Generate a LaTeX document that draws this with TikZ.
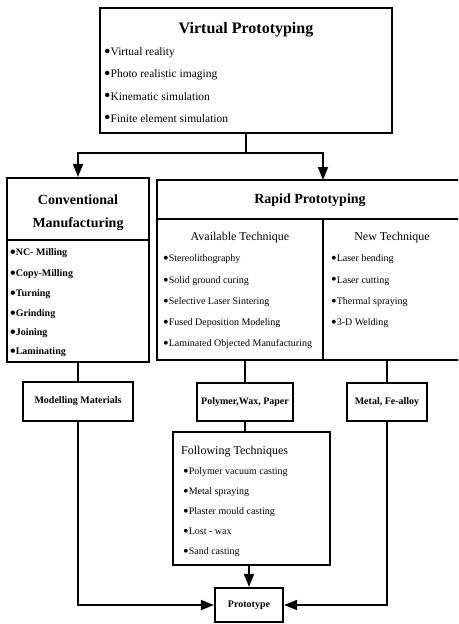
\documentclass[tikz,border=0pt]{standalone}
\usepackage{fontspec}
\setmainfont{Liberation Serif}
\usetikzlibrary{arrows.meta}
\usetikzlibrary{calc}
\newcommand{\dotmark}{\raisebox{-0.17em}{\scalebox{1.6}{\textbullet}}}

\begin{document}
\begin{tikzpicture}[
	x=1pt,
	y=-1pt,
	box/.style={
		draw,
		line width=2.2pt,
		inner sep=0pt,
	},
	divider/.style={
		line width=2.2pt,
	},
	link/.style={
		line width=1.6pt,
	},
	arrow/.style={
		line width=1.6pt,
		-{Triangle[length=13pt,width=10pt]},
	},
	title/.style={
		inner sep=0pt,
		font=\fontsize{14}{16}\selectfont\bfseries,
	},
	subtitle/.style={
		inner sep=0pt,
		font=\fontsize{12}{14}\selectfont,
	},
	item/.style={
		anchor=west,
		inner sep=0pt,
		font=\fontsize{10}{12}\selectfont,
	},
	bigitem/.style={
		anchor=west,
		inner sep=0pt,
		font=\fontsize{11.5}{13}\selectfont,
	},
	bolditem/.style={
		anchor=west,
		inner sep=0pt,
		font=\fontsize{10}{12}\selectfont\bfseries,
	},
	label/.style={
		font=\fontsize{10}{12}\selectfont\bfseries,
	},
]
\clip (0,0) rectangle (458,624);

\node[box, minimum width=292pt, minimum height=125pt] (vp) at (246,70.5) {};
\node[title, font=\fontsize{16}{18}\selectfont\bfseries] (vptitle) at (246,30) {Virtual Prototyping};
\node[bigitem] (vp1) at (104,53) {\dotmark Virtual reality};
\node[bigitem] (vp2) at (104,75) {\dotmark Photo realistic imaging};
\node[bigitem] (vp3) at (104,97) {\dotmark Kinematic simulation};
\node[bigitem] (vp4) at (104,119) {\dotmark Finite element simulation};

\node[box, minimum width=142pt, minimum height=184pt] (conv) at (78,270) {};
\node[title] (convtitle) at (78,200) {Conventional};
\node[title] (convtitleb) at (78,224) {Manufacturing};
\draw[divider] (conv.west |- 0,240) -- (conv.east |- 0,240);
\node[bolditem] (conv1) at (10,253) {\dotmark NC- Milling};
\node[bolditem] (conv2) at (10,274) {\dotmark Copy-Milling};
\node[bolditem] (conv3) at (10,294) {\dotmark Turning};
\node[bolditem] (conv4) at (10,314) {\dotmark Grinding};
\node[bolditem] (conv5) at (10,333) {\dotmark Joining};
\node[bolditem] (conv6) at (10,352) {\dotmark Laminating};

\node[box, minimum width=305pt, minimum height=180pt] (rp) at (309.5,270) {};
\node[title] (rptitle) at (310,200) {Rapid Prototyping};
\coordinate (rpsplit) at (323,180);
\draw[divider] (rp.west |- 0,219) -- (rp.east |- 0,219);
\draw[divider] (rpsplit |- 0,219) -- (rpsplit |- rp.south);
\node[subtitle] (avtitle) at (240,238) {Available Technique};
\node[item] (av1) at (163,259) {\dotmark Stereolithography};
\node[item] (av2) at (163,281) {\dotmark Solid ground curing};
\node[item] (av3) at (163,302) {\dotmark Selective Laser Sintering};
\node[item] (av4) at (163,323) {\dotmark Fused Deposition Modeling};
\node[item] (av5) at (163,344) {\dotmark Laminated Objected Manufacturing};
\node[subtitle] (newtitle) at (392,238) {New Technique};
\node[item] (new1) at (331,259) {\dotmark Laser bending};
\node[item] (new2) at (331,281) {\dotmark Laser cutting};
\node[item] (new3) at (331,302) {\dotmark Thermal spraying};
\node[item] (new4) at (331,323) {\dotmark 3-D Welding};

\node[box, label, minimum width=110pt, minimum height=39pt] (model) at (78,401.5) {Modelling Materials};
\node[box, label, minimum width=96pt, minimum height=38pt] (poly) at (245,402) {Polymer,Wax, Paper};
\node[box, label, minimum width=80pt, minimum height=38pt] (metal) at (387,402) {Metal, Fe-alloy};

\node[box, minimum width=157pt, minimum height=133pt] (follow) at (251.5,498.5) {};
\node[subtitle, anchor=west] (followtitle) at (181,452) {Following Techniques};
\node[item] (fol1) at (183,472) {\dotmark Polymer vacuum casting};
\node[item] (fol2) at (183,492) {\dotmark Metal spraying};
\node[item] (fol3) at (183,512) {\dotmark Plaster mould casting};
\node[item] (fol4) at (183,532) {\dotmark Lost - wax};
\node[item] (fol5) at (183,552) {\dotmark Sand casting};

\node[box, label, minimum width=68pt, minimum height=34pt] (proto) at (249,605) {Prototype};

\draw[link] (vp.south) -- ++(0,19) coordinate (split);
\draw[arrow] (split) -| (conv.north);
\draw[arrow] (split) -| (rpsplit);
\draw[link] (conv.south) -- (model.north);
\draw[link] (poly.north |- rp.south) -- (poly.north);
\draw[link] (metal.north |- rp.south) -- (metal.north);
\draw[link] (poly.south) -- (poly.south |- follow.north);
\draw[arrow] (proto.north |- follow.south) -- (proto.north);
\draw[arrow] (model.south) |- (proto.west);
\draw[arrow] (metal.south) |- (proto.east);
\end{tikzpicture}
\end{document}
